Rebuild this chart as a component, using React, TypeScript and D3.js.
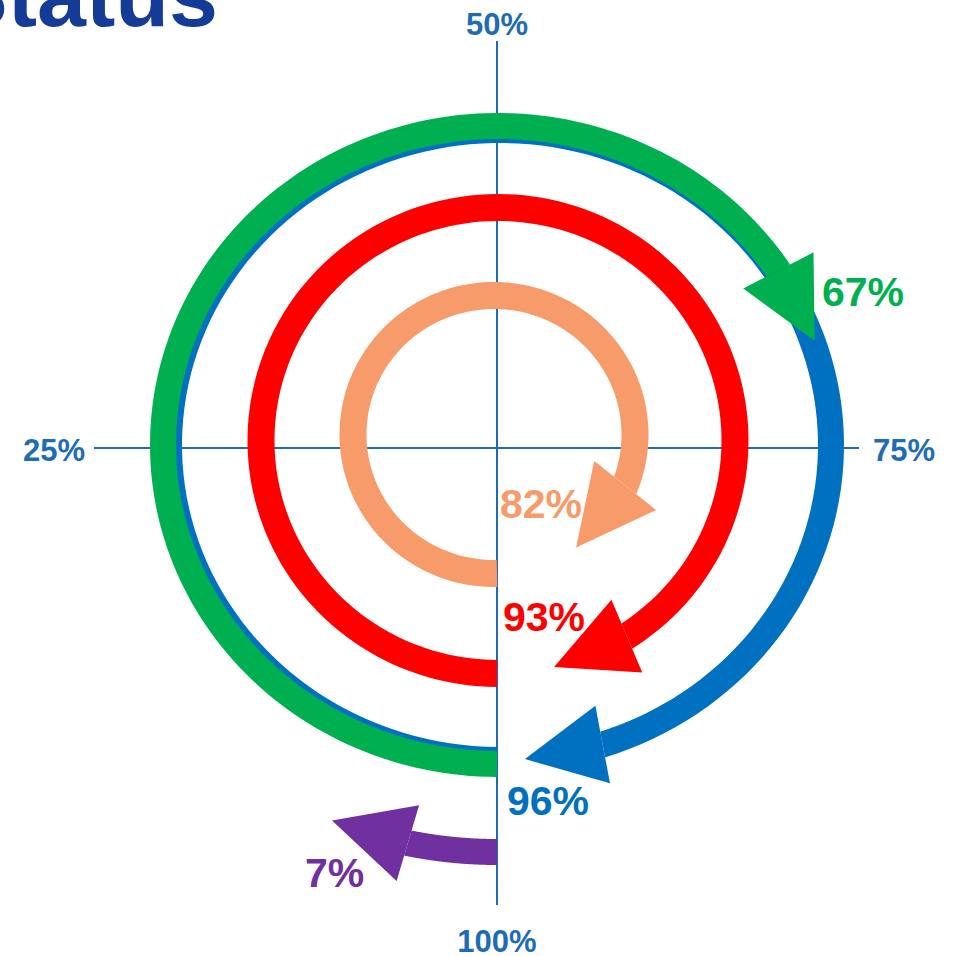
import React from 'react';
import * as d3 from 'd3';

// ---- data ----
const seriesNames = ['Blue', 'Green', 'Red', 'Orange', 'Purple'];
const valueLabels = ['96%', '67%', '93%', '82%', '7%'];
// position (in % of a full turn, clockwise from the bottom) of each arrow tip
const arrowTipPct = [98.8, 69.7, 96.2, 90.1, 6.3];
const axisTickLabels = ['100%', '25%', '50%', '75%'];
const titleText = 'Status';

// ---- layout / styles ----
const W = 955;
const H = 956;
const ringLayout = [
  { cx: 500, cy: 445, rx: 331, ry: 315, w: 26, color: '#0070C0', lx: 507, ly: 815 },
  { cx: 498, cy: 445, rx: 335, ry: 319, w: 26, color: '#00B050', lx: 822, ly: 306 },
  { cx: 498, cy: 440.5, rx: 237, ry: 233, w: 27, color: '#FF0000', lx: 503, ly: 631 },
  { cx: 494, cy: 434.5, rx: 141, ry: 139, w: 27, color: '#F79B6A', lx: 500, ly: 518 },
  { cx: 497, cy: 445, rx: 428, ry: 407, w: 26, color: '#7030A0', lx: 305, ly: 887 },
];
const HEAD_LEN = 79;
const HEAD_W = 79;
const axisColor = '#1F6CB6';
const axisCx = 497;
const axisCy = 448;
const axisExtent = { top: 41, bottom: 905, left: 94, right: 859 };

const angle = d3.scaleLinear().domain([0, 100]).range([0, 2 * Math.PI]);

type Ring = (typeof ringLayout)[number];

function pt(r: Ring, t: number, dr = 0): [number, number] {
  return [r.cx - (r.rx + dr) * Math.sin(t), r.cy + (r.ry + dr) * Math.cos(t)];
}

function baseAngle(r: Ring, tipT: number): number {
  const tp = pt(r, tipT);
  const dir = tipT > 0 ? -1 : 1;
  let t = tipT;
  for (let i = 0; i < 20000; i++) {
    t += dir * 0.0005;
    const p = pt(r, t);
    if (Math.hypot(p[0] - tp[0], p[1] - tp[1]) >= HEAD_LEN) break;
  }
  return t;
}

const line = d3.line();

function Arrow({ r, tipPct, id }: { r: Ring; tipPct: number; id: string }) {
  const tipT = angle(tipPct);
  const bT = baseAngle(r, tipT);
  // every band starts on the vertical axis
  const startT = Math.asin((r.cx - axisCx) / r.rx);
  // extend the band a little past the head base, then clip it along the base line
  const endT = bT + 14 / ((r.rx + r.ry) / 2);
  const n = 160;
  const ts = d3.range(n + 1).map((i) => startT + ((endT - startT) * i) / n);
  const outer = ts.map((t) => pt(r, t, r.w / 2));
  const inner = ts.map((t) => pt(r, t, -r.w / 2)).reverse();
  const body = line([...outer, ...inner]) + 'Z';
  const B = pt(r, bT);
  const T = pt(r, tipT);
  const len = Math.hypot(T[0] - B[0], T[1] - B[1]);
  const ux = (T[0] - B[0]) / len;
  const uy = (T[1] - B[1]) / len;
  const nx = -uy;
  const ny = ux;
  const hw = HEAD_W / 2;
  const head = line([
    [B[0] + nx * hw, B[1] + ny * hw],
    T,
    [B[0] - nx * hw, B[1] - ny * hw],
  ]) + 'Z';
  const box = line([
    [B[0] + nx * hw, B[1] + ny * hw],
    [B[0] + nx * hw + ux * 40, B[1] + ny * hw + uy * 40],
    [B[0] - nx * hw + ux * 40, B[1] - ny * hw + uy * 40],
    [B[0] - nx * hw, B[1] - ny * hw],
  ]) + 'Z';
  const clipD = `M-100,-100H${W + 100}V${H + 100}H-100Z` + box;
  return (
    <g>
      <clipPath id={id}>
        <path d={clipD} clipRule="evenodd" />
      </clipPath>
      <path d={body} fill={r.color} clipPath={`url(#${id})`} />
      <path d={head} fill={r.color} />
    </g>
  );
}

export default function App() {
  const font = "'Liberation Sans', Arial, sans-serif";
  return (
    <svg
      width={W}
      height={H}
      viewBox={`0 0 ${W} ${H}`}
      style={{ position: 'absolute', left: 0, top: 0, display: 'block', background: '#fff' }}
    >
      <text x={-51} y={26} fontFamily={font} fontWeight="bold" fontSize={88} fill="#143C96">
        {titleText}
      </text>
      {/* axes */}
      <line x1={axisCx} x2={axisCx} y1={axisExtent.top} y2={axisExtent.bottom} stroke={axisColor} strokeWidth={2} />
      <line x1={axisExtent.left} x2={axisExtent.right} y1={axisCy} y2={axisCy} stroke={axisColor} strokeWidth={2} />
      <g fontFamily={font} fontWeight="bold" fontSize={31} fill={axisColor}>
        <text x={axisCx} y={952} textAnchor="middle">{axisTickLabels[0]}</text>
        <text x={85} y={461} textAnchor="end">{axisTickLabels[1]}</text>
        <text x={axisCx} y={35} textAnchor="middle">{axisTickLabels[2]}</text>
        <text x={873} y={461} textAnchor="start">{axisTickLabels[3]}</text>
      </g>
      {seriesNames.map((s, i) => (
        <Arrow key={s} id={`clip-${i}`} r={ringLayout[i]} tipPct={arrowTipPct[i]} />
      ))}
      <g fontFamily={font} fontWeight="bold" fontSize={41}>
        {seriesNames.map((s, i) => (
          <text key={s} x={ringLayout[i].lx} y={ringLayout[i].ly} fill={ringLayout[i].color}>
            {valueLabels[i]}
          </text>
        ))}
      </g>
    </svg>
  );
}
